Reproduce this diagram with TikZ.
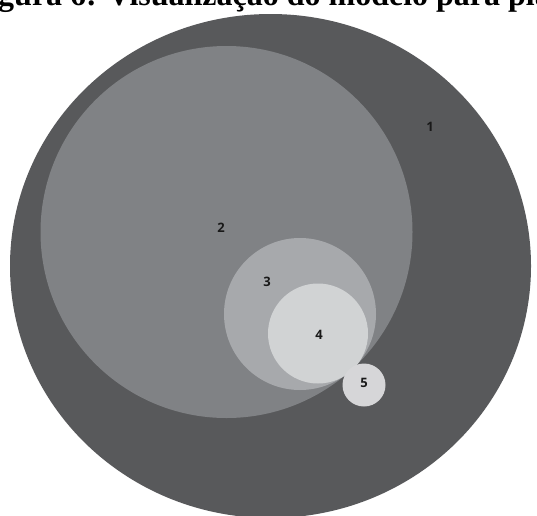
\documentclass[tikz,border=0pt]{standalone}
\usepackage{fontspec}
\setmainfont{Liberation Serif}
\setsansfont{Open Sans}
\usepackage{tikz}
\usetikzlibrary{shapes.geometric}
\usepackage{xcolor}
\definecolor{lvlone}{HTML}{58595B}
\definecolor{lvltwo}{HTML}{808285}
\definecolor{lvlthree}{HTML}{A7A9AC}
\definecolor{lvlfour}{HTML}{D1D3D4}
\definecolor{lvlfive}{HTML}{D6D6D8}

\begin{document}
\begin{tikzpicture}[x=1pt, y=-1pt,
  disc/.style={circle, inner sep=0pt, minimum size=#1},
  lbl/.style={font=\sffamily\bfseries\fontsize{13}{13}\selectfont, text=black!90},
]
\useasboundingbox (0,0) rectangle (537,515);
\clip (0,0) rectangle (537,515);
\fill[white] (0,0) rectangle (537,515);
% caption, cut by the top edge
\node[anchor=base west, inner sep=0pt, font=\bfseries\fontsize{32}{36}\selectfont]
  (caption) at (-30.4,5) {Figura 6: Visualização do modelo para planejamento};
% nested levels
\node[ellipse, inner sep=0pt, minimum width=521pt, minimum height=504pt, fill=lvlone]
  (lvl1) at (270.5,266) {};
\node[disc=372pt, fill=lvltwo] (lvl2) at (226.5,232) {};
\node[disc=152pt, fill=lvlthree] (lvl3) at (300,314) {};
\node[disc=100pt, fill=lvlfour] (lvl4) at (318,333.5) {};
\node[disc=43pt, fill=lvlfive] (lvl5) at (364,385) {};
% numbers
\node[lbl] (n1) at (430,127) {1};
\node[lbl] (n2) at (221,228) {2};
\node[lbl] (n3) at (267,282) {3};
\node[lbl] (n4) at (319,335) {4};
\node[lbl] (n5) at (364,383) {5};
\end{tikzpicture}
\end{document}
